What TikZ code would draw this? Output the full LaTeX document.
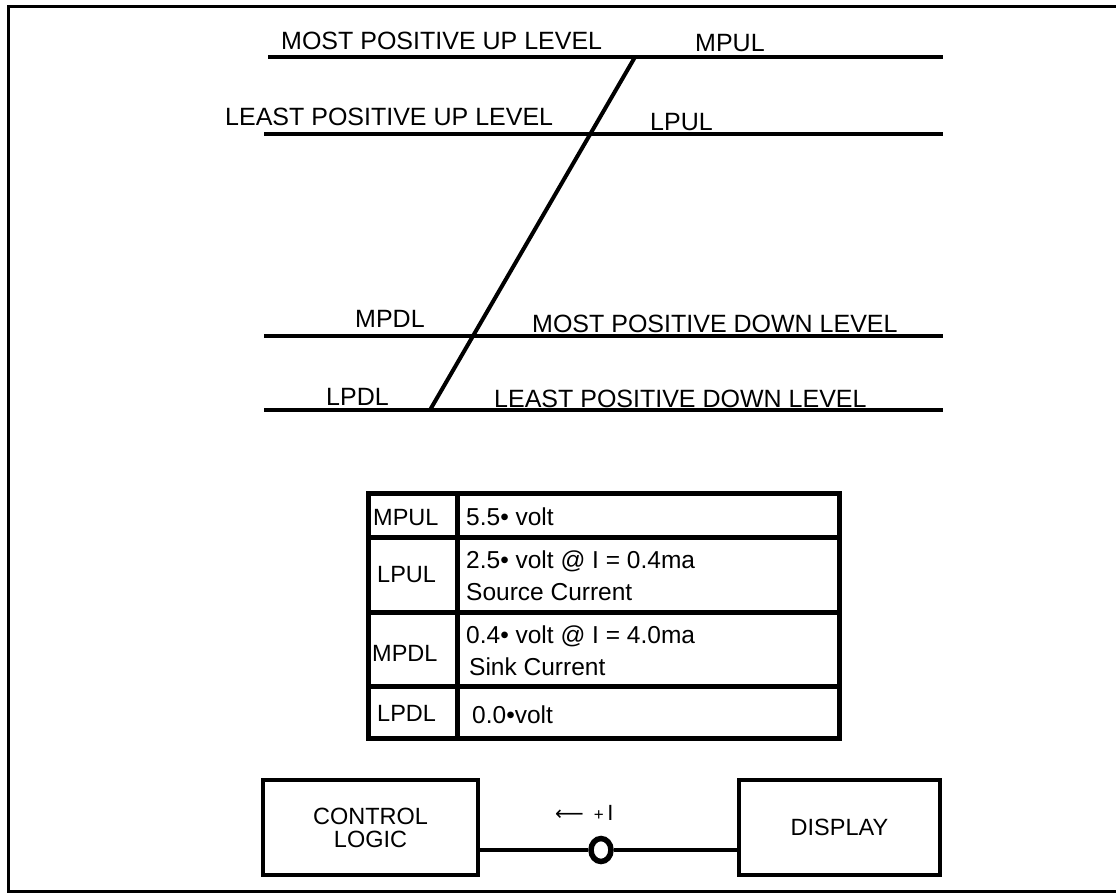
\documentclass[tikz,border=0pt]{standalone}
\usepackage{fontspec}
\setmainfont{Liberation Sans}
\newfontfamily\djv{DejaVu Sans}
\usetikzlibrary{shapes.geometric}
\begin{document}
\begin{tikzpicture}[x=1pt,y=-1pt,
  lvl/.style={line width=4pt},
  lab/.style={inner sep=0pt,font=\fontsize{25}{28}\selectfont},
  tlab/.style={inner sep=0pt,font=\fontsize{24.5}{28}\selectfont,align=left},
  klab/.style={inner sep=0pt,font=\fontsize{23.5}{27}\selectfont},
  tline/.style={draw,line width=5pt},
  boxs/.style={draw,line width=4pt},
  wire/.style={line width=4pt}]
\useasboundingbox (0,0) rectangle (1116,895);
% frame
\draw[line width=3pt] (1130,6) -- (8,6) -- (8,891) -- (1130,891);
% level lines
\coordinate (a1) at (268,57); \coordinate (a2) at (943,57);
\coordinate (b1) at (264,134); \coordinate (b2) at (943,134);
\coordinate (c1) at (264,336); \coordinate (c2) at (943,336);
\coordinate (d1) at (264,410); \coordinate (d2) at (943,410);
\coordinate (top) at (635,57); \coordinate (bot) at (430,410);
\draw[lvl] (a1) -- (a2);
\draw[lvl] (b1) -- (b2);
\draw[lvl] (c1) -- (c2);
\draw[lvl] (d1) -- (d2);
\draw[lvl] (top) -- (bot);
% labels
\node[lab,anchor=base west] (l1) at (281,49) {MOST POSITIVE UP LEVEL};
\node[lab,anchor=base west] (l2) at (695,51) {MPUL};
\node[lab,anchor=base west] (l3) at (225,125) {LEAST POSITIVE UP LEVEL};
\node[lab,anchor=base west] (l4) at (650,130) {LPUL};
\node[lab,anchor=base west] (l5) at (355,327) {MPDL};
\node[lab,anchor=base west] (l6) at (532,332) {MOST POSITIVE DOWN LEVEL};
\node[lab,anchor=base west] (l7) at (326,405) {LPDL};
\node[lab,anchor=base west] (l8) at (494,407) {LEAST POSITIVE DOWN LEVEL};
% table
\draw[tline] (368,493) rectangle (839,738);
\draw[tline] (457,493) -- (457,738);
\draw[tline] (368,537) -- (839,537);
\draw[tline] (368,612) -- (839,612);
\draw[tline] (368,686) -- (839,686);
\node[klab,anchor=west] (t1) at (373,518) {MPUL};
\node[klab,anchor=west] (t2) at (377,575) {LPUL};
\node[klab,anchor=west] (t3) at (372,653) {MPDL};
\node[klab,anchor=west] (t4) at (377,713) {LPDL};
\node[tlab,anchor=west] (v1) at (466,517) {5.5• volt};
\node[tlab,anchor=base west] (v2a) at (466,568) {2.5• volt @ I = 0.4ma};
\node[tlab,anchor=base west] (v2b) at (466,600) {Source Current};
\node[tlab,anchor=base west] (v3a) at (466,643) {0.4• volt @ I = 4.0ma};
\node[tlab,anchor=base west] (v3b) at (469,675) {Sink Current};
\node[tlab,anchor=west] (v4) at (472,715) {0.0•volt};
% bottom boxes
\node[boxs,minimum width=215pt,minimum height=95pt,inner sep=0pt,align=center,
  font=\fontsize{23.5}{23}\selectfont] (ctl) at (370.5,827.5) {CONTROL\\LOGIC};
\node[boxs,minimum width=201pt,minimum height=95pt,inner sep=0pt,
  font=\fontsize{23.5}{27}\selectfont] (dsp) at (839.5,827.5) {DISPLAY};
\node[draw,ellipse,line width=5.5pt,minimum width=20pt,minimum height=23pt,inner sep=0pt] (o) at (601,850) {};
\draw[wire] (ctl.east |- o) -- (o.west);
\draw[wire] (o.east) -- (dsp.west |- o);
\node[inner sep=0pt,font=\fontsize{22}{24}\selectfont,anchor=base west] (cur) at (555,820) {{\djv\fontsize{20}{22}\selectfont ⟵}\hspace{10pt}{\fontsize{17}{20}\selectfont +}\,I};
\end{tikzpicture}
\end{document}
